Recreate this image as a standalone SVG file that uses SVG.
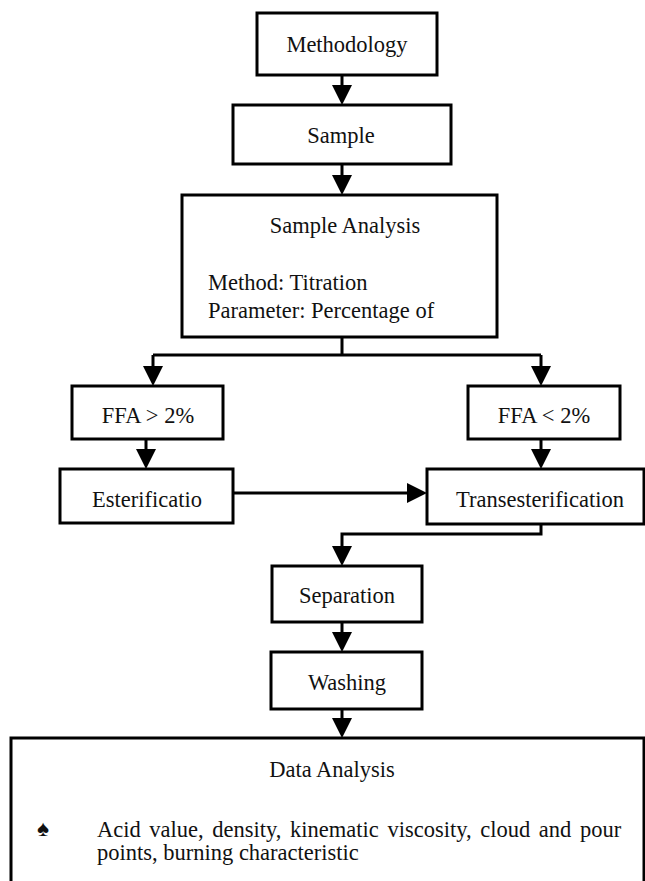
<svg xmlns="http://www.w3.org/2000/svg" width="645" height="881" viewBox="0 0 645 881">
<style>
.box{fill:#fff;stroke:#000;stroke-width:3}
.t{font-family:"Liberation Serif","Times New Roman",serif;font-size:22.5px;fill:#111}
.c{text-anchor:middle}
.con{fill:none;stroke:#000;stroke-width:3}
</style>
<defs>
<marker id="ah" viewBox="0 0 20 20" refX="12" refY="10" markerWidth="20" markerHeight="20" markerUnits="userSpaceOnUse" orient="auto">
<path d="M0,0 L20,10 L0,20 Z" fill="#000"/>
</marker>
</defs>
<rect width="645" height="881" fill="#fff"/>
<g id="connectors">
<path class="con" d="M342,75 V97" marker-end="url(#ah)"/>
<path class="con" d="M342,164 V187" marker-end="url(#ah)"/>
<path class="con" d="M342,337 V355 M153,355 H541"/>
<path class="con" d="M153,355 V378" marker-end="url(#ah)"/>
<path class="con" d="M541,355 V378" marker-end="url(#ah)"/>
<path class="con" d="M146,439 V461" marker-end="url(#ah)"/>
<path class="con" d="M541,439 V461" marker-end="url(#ah)"/>
<path class="con" d="M233,493 H419" marker-end="url(#ah)"/>
<path class="con" d="M541,524 V534 H342 V558" marker-end="url(#ah)"/>
<path class="con" d="M342,622 V644" marker-end="url(#ah)"/>
<path class="con" d="M342,709 V730" marker-end="url(#ah)"/>
</g>
<g id="methodology">
<rect class="box" x="257" y="13" width="180" height="62"/>
<text class="t c" x="347" y="52">Methodology</text>
</g>
<g id="sample">
<rect class="box" x="233" y="105" width="218" height="59"/>
<text class="t c" x="341" y="143">Sample</text>
</g>
<g id="sample-analysis">
<rect class="box" x="182" y="195" width="315" height="142"/>
<text class="t c" x="345" y="233">Sample Analysis</text>
<text class="t" x="208" y="290">Method: Titration</text>
<text class="t" x="208" y="318">Parameter: Percentage of</text>
</g>
<g id="ffa-high">
<rect class="box" x="72" y="386" width="151" height="53"/>
<text class="t c" x="148" y="423">FFA &gt; 2%</text>
</g>
<g id="ffa-low">
<rect class="box" x="468" y="386" width="152" height="53"/>
<text class="t c" x="544" y="423">FFA &lt; 2%</text>
</g>
<g id="esterification">
<rect class="box" x="60" y="469" width="173" height="54"/>
<text class="t c" x="147" y="507">Esterificatio</text>
</g>
<g id="transesterification">
<rect class="box" x="427" y="469" width="217" height="55"/>
<text class="t c" x="540" y="507">Transesterification</text>
</g>
<g id="separation">
<rect class="box" x="272" y="566" width="150" height="56"/>
<text class="t c" x="347" y="603">Separation</text>
</g>
<g id="washing">
<rect class="box" x="271" y="652" width="151" height="57"/>
<text class="t c" x="347" y="690">Washing</text>
</g>
<g id="data-analysis">
<rect class="box" x="11" y="738" width="633" height="160"/>
<text class="t c" x="332" y="777">Data Analysis</text>
<text class="t" x="37" y="836" font-size="18">♠</text>
<text class="t" x="97" y="837" word-spacing="3">Acid value, density, kinematic viscosity, cloud and pour</text>
<text class="t" x="97" y="860">points, burning characteristic</text>
</g>
</svg>
